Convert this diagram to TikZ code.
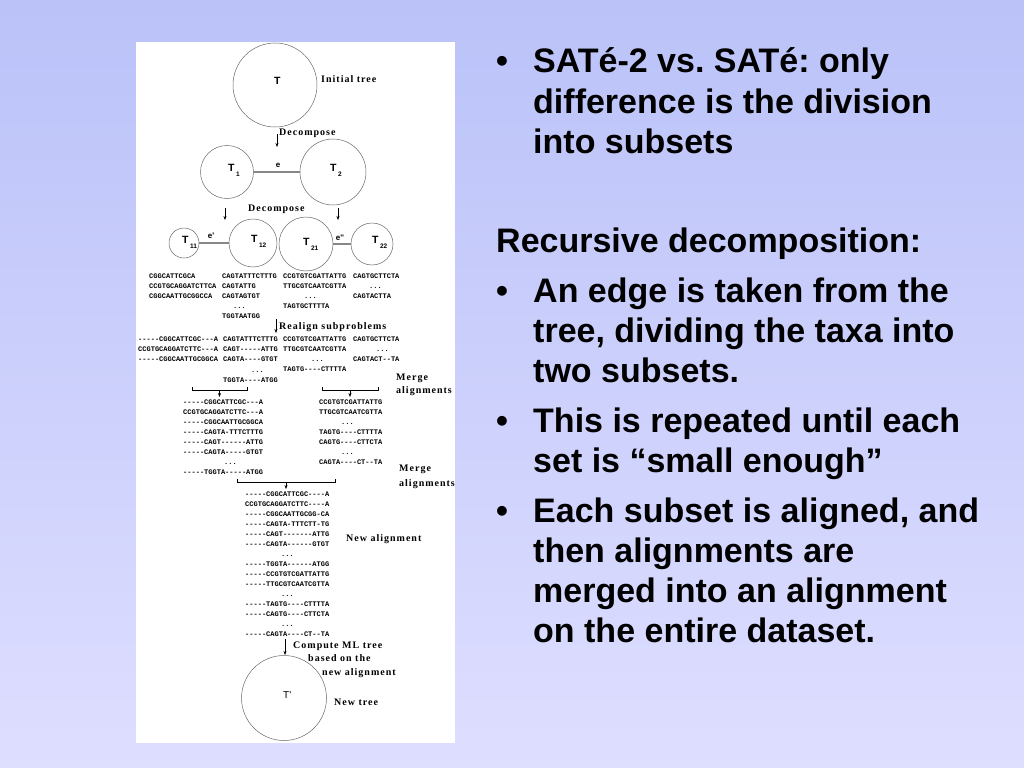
\documentclass[tikz,border=0pt]{standalone}
\usepackage{fontspec}
\setmainfont{Liberation Sans}
\newfontfamily\labfont[LetterSpace=10]{Liberation Serif}
\newfontfamily\seqfont[Ligatures=TeXOff]{Liberation Mono}
\usetikzlibrary{arrows.meta}
\definecolor{bgtop}{RGB}{186,194,248}
\definecolor{bgbot}{RGB}{222,222,255}
\definecolor{circc}{RGB}{105,105,105}
\definecolor{edgec}{RGB}{135,135,135}
\newcommand\tsub[1]{\hspace{1.5bp}\raisebox{-5bp}{\fontsize{6.5bp}{6.5bp}\selectfont #1}}
\frenchspacing
\begin{document}
\begin{tikzpicture}[x=1bp,y=-1bp,
  tree/.style={circle, draw=circc, line width=0.5bp, inner sep=0},
  tlab/.style={anchor=base west, inner sep=0, font=\bfseries\fontsize{10.5bp}{10.5bp}\selectfont},
  elab/.style={inner sep=0, font=\bfseries\fontsize{8bp}{8bp}\selectfont},
  edgeline/.style={draw=edgec, line width=1.4bp},
  seq/.style={anchor=base west, inner sep=0, font=\seqfont\bfseries\fontsize{7bp}{7bp}\selectfont},
  lab/.style={anchor=base west, inner sep=0, font=\labfont\bfseries\fontsize{10bp}{10bp}\selectfont},
  arr/.style={-{Stealth[length=4bp,width=3bp]}, line width=0.5bp},
  brk/.style={line width=0.5bp},
  body/.style={anchor=base west, inner sep=0, font=\bfseries\fontsize{34bp}{40bp}\selectfont}]
\useasboundingbox (0,0) rectangle (1024,768);
\shade[top color=bgtop, bottom color=bgbot] (0,0) rectangle (1024,768);
\fill[white] (136,42) rectangle (455,743);

% ---------- trees ----------
\node[tree, minimum size=84bp] (T) at (275,85) {};
\node[tree, minimum size=53bp] (T1) at (227,172) {};
\node[tree, minimum size=66bp] (T2) at (333,172) {};
\node[tree, minimum size=30bp] (T11) at (184,243) {};
\node[tree, minimum size=48bp] (T12) at (253,243) {};
\node[tree, minimum size=54bp] (T21) at (306,244) {};
\node[tree, minimum size=42bp] (T22) at (372,244) {};
\node[tree, minimum size=85bp] (Tp) at (284,698) {};

\node[tlab] (Tl) at (274,85) {T};
\node[tlab] (T1l) at (228,171) {T\tsub{1}};
\node[tlab] (T2l) at (330,171) {T\tsub{2}};
\node[tlab] (T11l) at (182,243) {T\tsub{11}};
\node[tlab] (T12l) at (251,242) {T\tsub{12}};
\node[tlab] (T21l) at (303,245) {T\tsub{21}};
\node[tlab] (T22l) at (372,243) {T\tsub{22}};
\node[anchor=base west, inner sep=0, font=\fontsize{10bp}{10bp}\selectfont] (Tpl) at (283,698) {T\textquotesingle};

\draw[edgeline] (T1) -- (T2);
\draw[edgeline] (T11) -- (T12);
\draw[edgeline] (T21) -- (T22);
\node[elab] (el) at (278,165) {e};
\node[elab] (e1l) at (211,236) {e\textquotesingle};
\node[elab] (e2l) at (340,238) {e\textquotesingle\textquotesingle};

% ---------- labels ----------
\node[lab] (L1) at (321,83) {Initial tree};
\node[lab] (L2) at (279,135) {Decompose};
\node[lab] (L3) at (248,211) {Decompose};
\node[lab] (L4) at (279,329) {Realign subproblems};
\node[lab] (L5) at (396,380) {Merge};
\node[lab] (L6) at (396,393) {alignments};
\node[lab] (L7) at (399,471) {Merge};
\node[lab] (L8) at (399,486) {alignments};
\node[lab] (L9) at (346,541) {New alignment};
\node[lab] (L10) at (293,648) {Compute ML tree};
\node[lab] (L11) at (308,661) {based on the};
\node[lab] (L12) at (322,675) {new alignment};
\node[lab] (L13) at (334,705) {New tree};

% ---------- arrows ----------
\coordinate (d1a) at (277,134); \coordinate (d1b) at (277,147);
\coordinate (d2a) at (225,208); \coordinate (d2b) at (225,220);
\coordinate (d3a) at (338,208); \coordinate (d3b) at (338,220);
\coordinate (r1a) at (276,319); \coordinate (r1b) at (276,333);
\coordinate (c1a) at (285,639); \coordinate (c1b) at (285,655);
\draw[arr] (d1a) -- (d1b);
\draw[arr] (d2a) -- (d2b);
\draw[arr] (d3a) -- (d3b);
\draw[arr] (r1a) -- (r1b);
\draw[arr] (c1a) -- (c1b);

% brackets
\coordinate (m1l) at (192,390); \coordinate (m1r) at (247,390);
\coordinate (m1m) at (219.5,390); \coordinate (m1e) at (219.5,397);
\coordinate (m2l) at (322,390); \coordinate (m2r) at (378,390);
\coordinate (m2m) at (350,390); \coordinate (m2e) at (350,397);
\coordinate (m3l) at (237,482); \coordinate (m3r) at (335,482);
\coordinate (m3m) at (286,482); \coordinate (m3e) at (286,489);
\draw[brk] (m1l) ++(0,-3) -- (m1l) -- (m1r) -- ++(0,-3);
\draw[brk] (m2l) ++(0,-3) -- (m2l) -- (m2r) -- ++(0,-3);
\draw[brk] (m3l) ++(0,-3) -- (m3l) -- (m3r) -- ++(0,-3);
\draw[arr] (m1m) -- (m1e);
\draw[arr] (m2m) -- (m2e);
\draw[arr] (m3m) -- (m3e);

% ---------- subsets ----------
\node[seq] (s1a) at (149,278) {CGGCATTCGCA};
\node[seq] (s1b) at (149,288) {CCGTGCAGGATCTTCA};
\node[seq] (s1c) at (149,298) {CGGCAATTGCGGCCA};
\node[seq] (s2a) at (222,278) {CAGTATTTCTTTG};
\node[seq] (s2b) at (222,288) {CAGTATTG};
\node[seq] (s2c) at (222,298) {CAGTAGTGT};
\node[seq] (s2d) at (233,308) {...};
\node[seq] (s2e) at (222,318) {TGGTAATGG};
\node[seq] (s3a) at (283,278) {CCGTGTCGATTATTG};
\node[seq] (s3b) at (283,288) {TTGCGTCAATCGTTA};
\node[seq] (s3c) at (304,298) {...};
\node[seq] (s3d) at (283,308) {TAGTGCTTTTA};
\node[seq] (s4a) at (353,278) {CAGTGCTTCTA};
\node[seq] (s4b) at (369,288) {...};
\node[seq] (s4c) at (353,298) {CAGTACTTA};

% realigned
\node[seq] (q1a) at (138,341) {-----CGGCATTCGC---A};
\node[seq] (q1b) at (138,351) {CCGTGCAGGATCTTC---A};
\node[seq] (q1c) at (138,361) {-----CGGCAATTGCGGCA};
\node[seq] (q2a) at (223,341) {CAGTATTTCTTTG};
\node[seq] (q2b) at (223,351) {CAGT-----ATTG};
\node[seq] (q2c) at (223,361) {CAGTA----GTGT};
\node[seq] (q2d) at (251,372) {...};
\node[seq] (q2e) at (223,382) {TGGTA----ATGG};
\node[seq] (q3a) at (283,341) {CCGTGTCGATTATTG};
\node[seq] (q3b) at (283,351) {TTGCGTCAATCGTTA};
\node[seq] (q3c) at (311,361) {...};
\node[seq] (q3d) at (283,371) {TAGTG----CTTTTA};
\node[seq] (q4a) at (353,341) {CAGTGCTTCTA};
\node[seq] (q4b) at (376,351) {...};
\node[seq] (q4c) at (353,361) {CAGTACT--TA};

% merged pairs
\node[seq] (p1a) at (183,404) {-----CGGCATTCGC---A};
\node[seq] (p1b) at (183,414) {CCGTGCAGGATCTTC---A};
\node[seq] (p1c) at (183,424) {-----CGGCAATTGCGGCA};
\node[seq] (p1d) at (183,434) {-----CAGTA-TTTCTTTG};
\node[seq] (p1e) at (183,444) {-----CAGT------ATTG};
\node[seq] (p1f) at (183,454) {-----CAGTA-----GTGT};
\node[seq] (p1g) at (224,464) {...};
\node[seq] (p1h) at (183,474) {-----TGGTA-----ATGG};
\node[seq] (p2a) at (319,404) {CCGTGTCGATTATTG};
\node[seq] (p2b) at (319,414) {TTGCGTCAATCGTTA};
\node[seq] (p2c) at (341,424) {...};
\node[seq] (p2d) at (319,434) {TAGTG----CTTTTA};
\node[seq] (p2e) at (319,444) {CAGTG----CTTCTA};
\node[seq] (p2f) at (341,454) {...};
\node[seq] (p2g) at (319,464) {CAGTA----CT--TA};

% final alignment
\node[seq] (f01) at (245,496) {-----CGGCATTCGC----A};
\node[seq] (f02) at (245,506) {CCGTGCAGGATCTTC----A};
\node[seq] (f03) at (245,516) {-----CGGCAATTGCGG-CA};
\node[seq] (f04) at (245,526) {-----CAGTA-TTTCTT-TG};
\node[seq] (f05) at (245,536) {-----CAGT-------ATTG};
\node[seq] (f06) at (245,546) {-----CAGTA------GTGT};
\node[seq] (f07) at (281,556) {...};
\node[seq] (f08) at (245,566) {-----TGGTA------ATGG};
\node[seq] (f09) at (245,576) {-----CCGTGTCGATTATTG};
\node[seq] (f10) at (245,586) {-----TTGCGTCAATCGTTA};
\node[seq] (f11) at (281,596) {...};
\node[seq] (f12) at (245,606) {-----TAGTG----CTTTTA};
\node[seq] (f13) at (245,616) {-----CAGTG----CTTCTA};
\node[seq] (f14) at (281,626) {...};
\node[seq] (f15) at (245,636) {-----CAGTA----CT--TA};

% ---------- right text ----------
\node[body] (b1) at (496,73) {•};
\node[body] (t1a) at (533,73) {SATé-2 vs. SATé: only};
\node[body] (t1b) at (533,113) {difference is the division};
\node[body] (t1c) at (533,153) {into subsets};
\node[body] (h1) at (496,252) {Recursive decomposition:};
\node[body] (b2) at (496,302) {•};
\node[body] (t2a) at (533,302) {An edge is taken from the};
\node[body] (t2b) at (533,342) {tree, dividing the taxa into};
\node[body] (t2c) at (533,382) {two subsets.};
\node[body] (b3) at (496,432) {•};
\node[body] (t3a) at (533,432) {This is repeated until each};
\node[body] (t3b) at (533,472) {set is “small enough”};
\node[body] (b4) at (496,522) {•};
\node[body] (t4a) at (533,522) {Each subset is aligned, and};
\node[body] (t4b) at (533,562) {then alignments are};
\node[body] (t4c) at (533,602) {merged into an alignment};
\node[body] (t4d) at (533,642) {on the entire dataset.};
\end{tikzpicture}
\end{document}
